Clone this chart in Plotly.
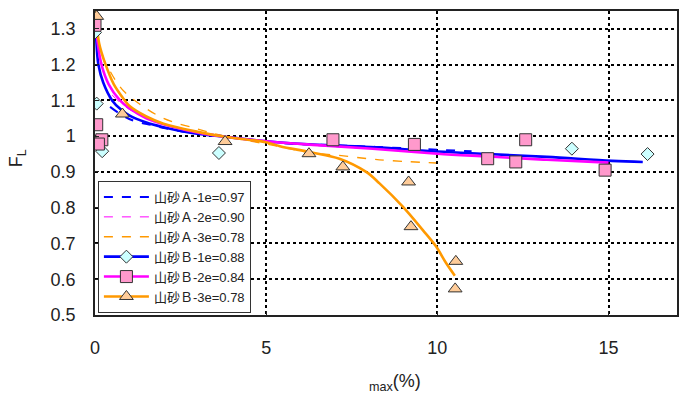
import plotly.graph_objects as go

# ---- data -------------------------------------------------------------
# fitted curves, sand A (dashed)
a1_x = [0.44, 1.0, 1.7, 2.5, 3.6, 5.4, 7.0, 8.2, 10.0, 11.0]
a1_y = [1.082, 1.048, 1.030, 1.014, 1.002, 0.981, 0.975, 0.970, 0.962, 0.958]
a2_x = [0.5, 1.0, 2.0, 3.6, 5.4, 8.0, 10.0]
a2_y = [1.115, 1.075, 1.035, 1.003, 0.982, 0.965, 0.955]
a3_x = [0.45, 0.58, 0.83, 1.3, 2.0, 3.0, 3.8, 5.0, 6.36, 6.95, 8.31, 9.96]
a3_y = [1.18, 1.159, 1.127, 1.09, 1.05, 1.02, 1.0, 0.978, 0.953, 0.948, 0.934, 0.925]

# fitted curves, sand B (solid)
b1_x = [0.0, 0.02, 0.05, 0.1, 0.24, 0.5, 0.75, 1.0, 1.5, 2.0, 2.7, 3.5, 4.2, 5.0,
        6.5, 8.2, 10.0, 11.5, 13.2, 15.1, 16.0]
b1_y = [1.42, 1.32, 1.25, 1.20, 1.15, 1.10, 1.075, 1.058, 1.038, 1.025, 1.011, 1.001,
        0.994, 0.986, 0.976, 0.969, 0.957, 0.950, 0.942, 0.931, 0.928]
b2_x = [0.0, 0.03, 0.08, 0.19, 0.4, 0.73, 1.0, 1.5, 2.0, 2.7, 3.5, 5.0, 6.5, 8.2,
        10.0, 11.5, 13.2, 15.0]
b2_y = [1.42, 1.32, 1.26, 1.20, 1.145, 1.10, 1.078, 1.05, 1.033, 1.016, 1.002, 0.986,
        0.975, 0.964, 0.951, 0.943, 0.934, 0.926]
b3_x = [0.0, 0.04, 0.12, 0.31, 0.55, 0.87, 1.0, 1.5, 2.0, 3.0, 3.74, 5.0, 5.4, 6.3,
        7.14, 7.92, 8.31, 8.99, 9.57, 9.96, 10.25, 10.51]
b3_y = [1.42, 1.33, 1.26, 1.20, 1.145, 1.10, 1.085, 1.055, 1.035, 1.012, 0.999, 0.983,
        0.972, 0.955, 0.937, 0.90, 0.868, 0.803, 0.738, 0.692, 0.646, 0.61]

# test results, sand B
pb1_x = [0.0, 0.05, 0.21, 3.62, 13.93, 16.14]
pb1_y = [1.29, 1.091, 0.958, 0.953, 0.965, 0.950]
pb2_x = [0.0, 0.05, 0.2, 0.1, 6.95, 9.33, 11.47, 12.58, 12.29, 14.9]
pb2_y = [1.31, 1.032, 0.99, 0.978, 0.99, 0.977, 0.937, 0.99, 0.928, 0.905]
pb3_x = [0.05, 0.8, 3.8, 6.25, 7.24, 9.16, 9.23, 10.54, 10.52]
pb3_y = [1.335, 1.062, 0.985, 0.951, 0.914, 0.872, 0.747, 0.65, 0.573]

names = ["山砂Ａ-1e=0.97", "山砂Ａ-2e=0.90", "山砂Ａ-3e=0.78",
         "山砂Ｂ-1e=0.88", "山砂Ｂ-2e=0.84", "山砂Ｂ-3e=0.78"]

x_ticks = [0, 5, 10, 15]
y_ticks = [0.5, 0.6, 0.7, 0.8, 0.9, 1, 1.1, 1.2, 1.3]
y_ticktext = ["0.5", "0.6", "0.7", "0.8", "0.9", "1", "1.1", "1.2", "1.3"]

# ---- styles -----------------------------------------------------------
BLUE, MAGENTA, ORANGE = "#0000ff", "#ff00ff", "#ff9900"
FONT = "Arial, 'Liberation Sans', 'Noto Sans CJK JP', sans-serif"
EDGE = dict(color="#333333", width=1)

fig = go.Figure()

# dashed curves
for x, y, c, w, nm in [(a1_x, a1_y, BLUE, 2, names[0]),
                       (a2_x, a2_y, MAGENTA, 1, names[1]),
                       (a3_x, a3_y, ORANGE, 1.3, names[2])]:
    fig.add_trace(go.Scatter(x=x, y=y, mode="lines", name=nm,
                             line=dict(color=c, width=w, dash="dash"),
                             line_shape="spline"))

# solid curves
for x, y, c in [(b1_x, b1_y, BLUE), (b2_x, b2_y, MAGENTA), (b3_x, b3_y, ORANGE)]:
    fig.add_trace(go.Scatter(x=x, y=y, mode="lines", showlegend=False,
                             line=dict(color=c, width=2.6), line_shape="spline"))

# measured points
marker_specs = [
    (pb1_x, pb1_y, BLUE, dict(symbol="diamond", size=10, color="#ccffff", line=EDGE), names[3]),
    (pb2_x, pb2_y, MAGENTA, dict(symbol="square", size=12, color="#ff99cc", line=EDGE), names[4]),
    (pb3_x, pb3_y, ORANGE, dict(symbol="triangle-up", size=12, color="#ffcc99", line=EDGE), names[5]),
]
for x, y, c, mk, nm in marker_specs:
    fig.add_trace(go.Scatter(x=x, y=y, mode="markers", showlegend=False, marker=mk))

# legend entries for sand B (line + marker)
for x, y, c, mk, nm in marker_specs:
    fig.add_trace(go.Scatter(x=[None], y=[None], mode="lines+markers", name=nm,
                             line=dict(color=c, width=2.6), marker=mk))

axis_common = dict(
    showline=True, linecolor="#222222", linewidth=1.5, mirror=True,
    ticks="inside", ticklen=4, tickcolor="#222222",
    showgrid=True, gridcolor="#000000", gridwidth=2, griddash="dot",
    zeroline=False,
    tickfont=dict(family=FONT, size=18, color="#222222"),
)

fig.update_xaxes(range=[0, 17], tickvals=x_ticks, ticklabelstandoff=16, **axis_common)
fig.update_yaxes(range=[0.5, 1.35], tickvals=y_ticks, ticktext=y_ticktext,
                 ticklabelstandoff=14, **axis_common)

fig.update_layout(
    width=688, height=396,
    margin=dict(l=95, r=10, t=9, b=81),
    paper_bgcolor="white", plot_bgcolor="white",
    font=dict(family=FONT, color="#222222"),
    showlegend=True,
    legend=dict(x=0.005, y=0.0065, xanchor="left", yanchor="bottom",
                bgcolor="white", bordercolor="#333333", borderwidth=1,
                font=dict(family=FONT, size=13, color="#222222"),
                itemwidth=45, tracegroupgap=0),
    annotations=[
        dict(text="F<sub>L</sub>", xref="paper", yref="paper",
             x=-0.134, y=0.516, xanchor="center", yanchor="middle",
             textangle=-90, showarrow=False,
             font=dict(family=FONT, size=18, color="#222222")),
        dict(text="<sub>max</sub>(%)", xref="paper", yref="paper",
             x=0.516, y=-0.222, xanchor="center", yanchor="middle",
             showarrow=False,
             font=dict(family=FONT, size=18, color="#222222")),
    ],
)

fig.write_html("out.html")
